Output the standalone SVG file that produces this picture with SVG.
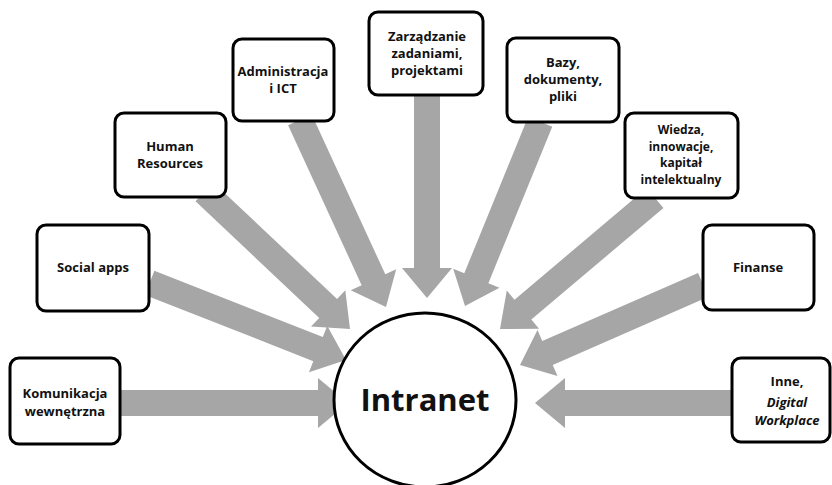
<svg xmlns="http://www.w3.org/2000/svg" width="832" height="485" viewBox="0 0 832 485">
<style>
.box{fill:#fff;stroke:#000;stroke-width:3}
.arr{fill:#a6a6a6}
text{font-family:"Open Sans","DejaVu Sans",sans-serif;font-weight:bold;font-size:13px;fill:#111;text-anchor:middle}
.it{font-style:italic}
.sm{font-size:12px}
.big{font-size:31px}
</style>
<rect width="832" height="485" fill="#fff"/>
<g id="connectors">
<polygon class="arr" transform="translate(348,403) rotate(0)" points="0,0 -30,-25 -30,-13 -228,-13 -228,13 -30,13 -30,25"/>
<polygon class="arr" transform="translate(346,360) rotate(21.45)" points="0,0 -30,-25 -30,-13 -211,-13 -211,13 -30,13 -30,25"/>
<polygon class="arr" transform="translate(350,329) rotate(43.3)" points="0,0 -30,-25 -30,-13 -200,-13 -200,13 -30,13 -30,25"/>
<polygon class="arr" transform="translate(386,307) rotate(65.3)" points="0,0 -30,-25 -30,-13 -206,-13 -206,13 -30,13 -30,25"/>
<polygon class="arr" transform="translate(427,298) rotate(90)" points="0,0 -30,-25 -30,-13 -203,-13 -203,13 -30,13 -30,25"/>
<polygon class="arr" transform="translate(465,306) rotate(112.2)" points="0,0 -30,-25 -30,-13 -199,-13 -199,13 -30,13 -30,25"/>
<polygon class="arr" transform="translate(500,329) rotate(139.8)" points="0,0 -30,-25 -30,-13 -203,-13 -203,13 -30,13 -30,25"/>
<polygon class="arr" transform="translate(520,365) rotate(156.4)" points="0,0 -30,-25 -30,-13 -200,-13 -200,13 -30,13 -30,25"/>
<polygon class="arr" transform="translate(535,403) rotate(180)" points="0,0 -30,-25 -30,-13 -197,-13 -197,13 -30,13 -30,25"/>
</g>
<g id="intranet">
<ellipse cx="425" cy="400" rx="91" ry="87" fill="#fff" stroke="#000" stroke-width="3"/>
<text class="big" x="425" y="411">Intranet</text>
</g>
<g id="komunikacja">
<rect class="box" x="10" y="358" width="110" height="86" rx="9"/>
<text x="65" y="398">Komunikacja</text>
<text x="65" y="416">wewnętrzna</text>
</g>
<g id="social">
<rect class="box" x="37" y="225" width="112" height="86" rx="9"/>
<text x="93" y="272">Social apps</text>
</g>
<g id="hr">
<rect class="box" x="115" y="113" width="111" height="84" rx="9"/>
<text x="170" y="151">Human</text>
<text x="170" y="168">Resources</text>
</g>
<g id="admin">
<rect class="box" x="233" y="39" width="101" height="82" rx="9"/>
<text x="283" y="76">Administracja</text>
<text x="283" y="93">i ICT</text>
</g>
<g id="zarzadzanie">
<rect class="box" x="369" y="12" width="114" height="83" rx="9"/>
<text x="427" y="41">Zarządzanie</text>
<text x="427" y="58">zadaniami,</text>
<text x="427" y="75">projektami</text>
</g>
<g id="bazy">
<rect class="box" x="507" y="38" width="112" height="84" rx="9"/>
<text x="563" y="67">Bazy,</text>
<text x="563" y="84">dokumenty,</text>
<text x="563" y="101">pliki</text>
</g>
<g id="wiedza">
<rect class="box" x="625" y="113" width="113" height="85" rx="9"/>
<text class="sm" x="681" y="134">Wiedza,</text>
<text class="sm" x="681" y="150.5">innowacje,</text>
<text class="sm" x="681" y="167">kapitał</text>
<text class="sm" x="681" y="183.5">intelektualny</text>
</g>
<g id="finanse">
<rect class="box" x="703" y="225" width="111" height="85" rx="9"/>
<text x="758" y="272">Finanse</text>
</g>
<g id="inne">
<rect class="box" x="732" y="358" width="98" height="84" rx="9"/>
<text x="787" y="386">Inne,</text>
<text class="it" x="787" y="407">Digital</text>
<text class="it" x="787" y="425">Workplace</text>
</g>
</svg>
